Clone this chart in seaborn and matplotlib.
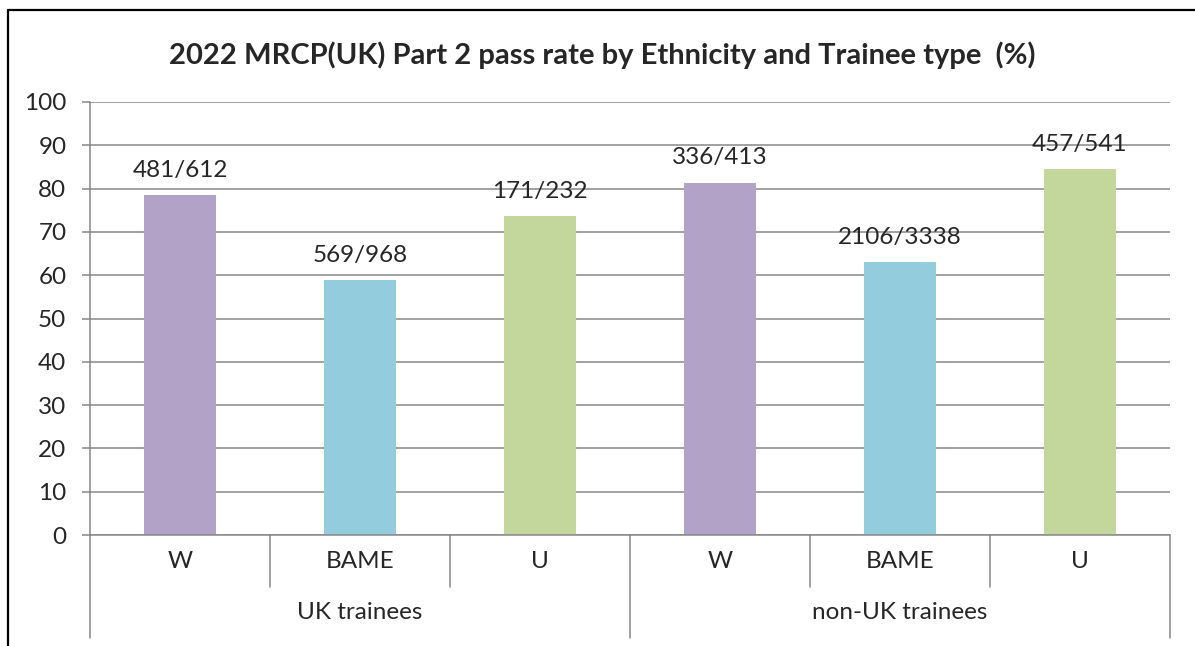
import matplotlib
matplotlib.use("Agg")
import matplotlib.pyplot as plt
import matplotlib.transforms as mtransforms
from matplotlib.lines import Line2D
import pandas as pd
import seaborn as sns

groups = ["UK trainees", "UK trainees", "UK trainees",
          "non-UK trainees", "non-UK trainees", "non-UK trainees"]
ethnicity = ["W", "BAME", "U", "W", "BAME", "U"]
pass_rate = [78.6, 58.8, 73.7, 81.4, 63.1, 84.5]
counts = ["481/612", "569/968", "171/232", "336/413", "2106/3338", "457/541"]
colors = {"W": "#B3A2C7", "BAME": "#93CDDD", "U": "#C3D69B"}

df = pd.DataFrame({"group": groups, "eth": ethnicity, "rate": pass_rate, "label": counts})
df["key"] = [f"{g}|{e}" for g, e in zip(groups, ethnicity)]

sns.set_style("white")
plt.rcParams["font.family"] = ["Lato", "DejaVu Sans"]
grid_c = "#878787"
fs = 17.5

fig = plt.figure(figsize=(11.95, 6.46), dpi=100)
ax = fig.add_axes([90 / 1195, 111 / 646, 1080 / 1195, 433 / 646])

sns.barplot(data=df, x="key", y="rate", hue="eth", palette=colors, order=df["key"],
            dodge=False, width=0.4, legend=False, ax=ax, saturation=1, linewidth=0)

ax.set_xlim(-0.5, 5.5)
ax.set_ylim(0, 100)
ax.set_yticks(range(0, 101, 10))
ax.tick_params(axis="y", labelsize=fs, length=6, width=1.1, color=grid_c, pad=11, left=True)
ax.tick_params(axis="x", bottom=False, labelbottom=False)
ax.set_xlabel("")
ax.set_ylabel("")
ax.yaxis.grid(True, color=grid_c, linewidth=1.1)
ax.set_axisbelow(True)
for s in ["top", "right", "bottom"]:
    ax.spines[s].set_visible(False)
ax.spines["left"].set_color(grid_c)
ax.spines["left"].set_linewidth(1.1)

for i, row in df.iterrows():
    ax.annotate(row["label"], (i, row["rate"]), xytext=(0, 13), textcoords="offset points",
                ha="center", va="baseline", fontsize=fs)

# multi-level category axis
trans = mtransforms.blended_transform_factory(ax.transData, ax.transAxes)
ax.plot([-0.5, 5.5], [0, 0], transform=trans, color=grid_c, lw=1.1, clip_on=False)
inner_depth = -52 / 433
outer_depth = -103 / 433
for b in [0.5, 1.5, 3.5, 4.5]:
    ax.plot([b, b], [0, inner_depth], transform=trans, color=grid_c, lw=1.1, clip_on=False)
for b in [-0.5, 2.5, 5.5]:
    ax.plot([b, b], [0, outer_depth], transform=trans, color=grid_c, lw=1.1, clip_on=False)
for i, e in enumerate(ethnicity):
    ax.text(i, inner_depth / 2, e, transform=trans, ha="center", va="center", fontsize=fs)
for g, c in zip(["UK trainees", "non-UK trainees"], [1, 4]):
    ax.text(c, (inner_depth + outer_depth) / 2, g, transform=trans, ha="center",
            va="center", fontsize=fs)

fig.text(602 / 1195, 1 - 55 / 646,
         "2022 MRCP(UK) Part 2 pass rate by Ethnicity and Trainee type  (%)",
         ha="center", va="center", fontsize=21, fontweight="bold")

# outer chart frame (clipped at right and bottom)
fig.add_artist(Line2D([8 / 1195, 8 / 1195], [0, 1 - 10 / 646], transform=fig.transFigure,
                      color="black", lw=1.6))
fig.add_artist(Line2D([8 / 1195, 1], [1 - 10 / 646, 1 - 10 / 646], transform=fig.transFigure,
                      color="black", lw=1.6))

fig.savefig("out.png", dpi=100)
